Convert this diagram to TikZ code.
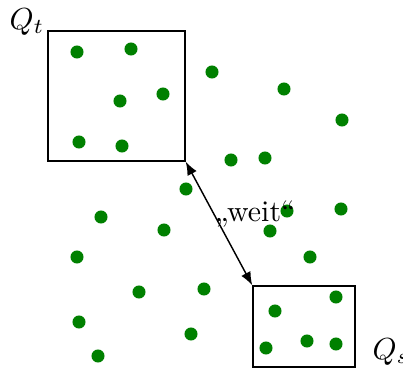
\documentclass[tikz,border=0pt]{standalone}
\usetikzlibrary{arrows.meta,fit}
\definecolor{dotgreen}{RGB}{0,128,0}
\begin{document}
\begin{tikzpicture}[x=0.345pt,y=-0.345pt,
  pt/.style={fill=dotgreen,draw=none,circle,inner sep=0pt,minimum size=4.5pt},
  region/.style={draw,line width=0.5pt,inner sep=0pt},
  dist/.style={{Latex[length=4.6pt,width=3.6pt]}-{Latex[length=4.6pt,width=3.6pt]},line width=0.5pt}]
\useasboundingbox (0,0) rectangle (403,371);
% the two regions
\node[region,fit={(48,31) (185,161)}] (Qt) {};
\node[region,fit={(253,286) (355,367)}] (Qs) {};
\node[anchor=base west,inner sep=0pt,scale=1.05] (lt) at (9,29) {$Q_t$};
\node[anchor=base west,inner sep=0pt,scale=1.05] (ls) at (372,359) {$Q_s$};
% points
\foreach \px/\py [count=\i] in {77/52,131/49,120/101,163/94,79/142,122/146,
  212/72,284/89,342/120,231/160,265/158,186/189,101/217,164/230,287/211,
  341/209,270/231,77/257,310/257,139/292,204/289,79/322,191/334,98/356,
  275/311,336/297,266/348,307/341,336/344}
  \node[pt] (p\i) at (\px,\py) {};
% distance between the regions
\draw[dist] (Qt.south east) -- (Qs.north west);
\node[anchor=base,inner sep=0pt,scale=1.03] (w) at (255,221) {„weit“};
\end{tikzpicture}
\end{document}
